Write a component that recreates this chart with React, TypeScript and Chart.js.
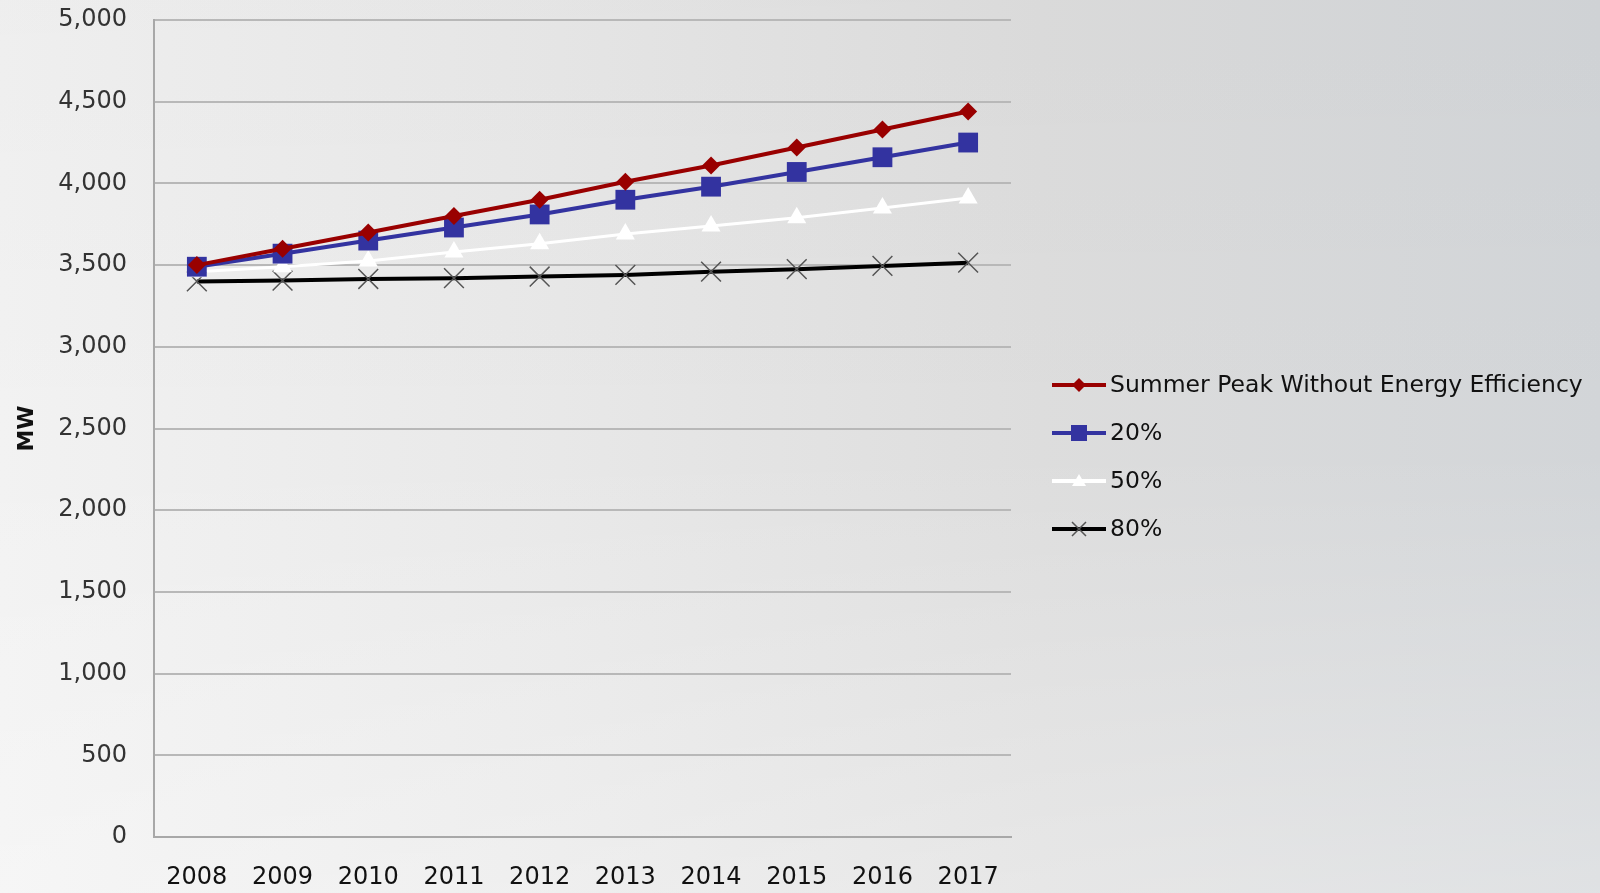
import React, { useEffect, useRef } from "react";
import { Chart, registerables } from "chart.js";

Chart.register(...registerables);

const years = ["2008", "2009", "2010", "2011", "2012", "2013", "2014", "2015", "2016", "2017"];
const summerPeak = [3500, 3600, 3700, 3800, 3900, 4010, 4110, 4220, 4330, 4440];
const eff20 = [3490, 3570, 3650, 3730, 3810, 3900, 3980, 4070, 4160, 4250];
const eff50 = [3460, 3490, 3525, 3580, 3630, 3690, 3740, 3790, 3850, 3910];
const eff80 = [3400, 3405, 3415, 3420, 3430, 3440, 3460, 3475, 3495, 3515];
const seriesNames = ["Summer Peak Without Energy Efficiency", "20%", "50%", "80%"];

const FONT = "'DejaVu Sans', Verdana, sans-serif";

function drawMarker(ctx: CanvasRenderingContext2D, style: string, x: number, y: number, r: number, color: string) {
  ctx.fillStyle = color;
  ctx.strokeStyle = color;
  ctx.beginPath();
  if (style === "diamond") {
    ctx.moveTo(x, y - r); ctx.lineTo(x + r, y); ctx.lineTo(x, y + r); ctx.lineTo(x - r, y); ctx.closePath(); ctx.fill();
  } else if (style === "square") {
    ctx.rect(x - r, y - r, 2 * r, 2 * r); ctx.fill();
  } else if (style === "triangle") {
    ctx.moveTo(x, y - r); ctx.lineTo(x + r, y + r * 0.7); ctx.lineTo(x - r, y + r * 0.7); ctx.closePath(); ctx.fill();
  } else {
    ctx.lineWidth = 1.5;
    ctx.moveTo(x - r, y - r); ctx.lineTo(x + r, y + r);
    ctx.moveTo(x + r, y - r); ctx.lineTo(x - r, y + r); ctx.stroke();
  }
}

const legendMarkers = [
  { style: "diamond", r: 7, line: "#990000", marker: "#990000" },
  { style: "square", r: 8, line: "#3333a0", marker: "#3333a0" },
  { style: "triangle", r: 7, line: "#ffffff", marker: "#ffffff" },
  { style: "cross", r: 7, line: "#000000", marker: "#555555" },
];

const sideLegend = {
  id: "sideLegend",
  afterDraw(chart: any) {
    const ctx: CanvasRenderingContext2D = chart.ctx;
    const area = chart.chartArea;
    const x0 = area.right + 41;
    const step = 48;
    const yStart = 385;
    ctx.save();
    chart.data.datasets.forEach((ds: any, i: number) => {
      const m = legendMarkers[i];
      const y = yStart + i * step;
      ctx.strokeStyle = m.line;
      ctx.lineWidth = 4;
      ctx.beginPath();
      ctx.moveTo(x0, y);
      ctx.lineTo(x0 + 54, y);
      ctx.stroke();
      drawMarker(ctx, m.style, x0 + 27, y, m.r, m.marker);
      ctx.font = `23.5px ${FONT}`;
      ctx.textBaseline = "middle";
      ctx.textAlign = "left";
      ctx.fillStyle = "#111111";
      ctx.fillText(ds.label, x0 + 58, y + 1);
    });
    ctx.restore();
  },
};

export default function App() {
  const ref = useRef<HTMLCanvasElement | null>(null);

  useEffect(() => {
    document.body.style.margin = "0";
    const chart = new Chart(ref.current!, {
      type: "line",
      data: {
        labels: years,
        datasets: [
          {
            label: seriesNames[0], data: summerPeak, borderColor: "#990000", backgroundColor: "#990000",
            borderWidth: 4, pointStyle: "rectRot", pointRadius: 9, pointBorderWidth: 0,
          },
          {
            label: seriesNames[1], data: eff20, borderColor: "#3333a0", backgroundColor: "#3333a0",
            borderWidth: 4, pointStyle: "rect", pointRadius: 14, pointBorderWidth: 0,
          },
          {
            label: seriesNames[2], data: eff50, borderColor: "#ffffff", backgroundColor: "#ffffff",
            borderWidth: 3, pointStyle: "triangle", pointRadius: 11, pointBorderWidth: 0,
          },
          {
            label: seriesNames[3], data: eff80, borderColor: "#000000", backgroundColor: "#555555",
            borderWidth: 4, pointStyle: "crossRot", pointRadius: 14, pointBorderWidth: 1.5,
            pointBorderColor: "#555555",
          },
        ],
      },
      options: {
        animation: false,
        responsive: false,
        layout: { autoPadding: false, padding: { top: 20, right: 589, bottom: 0, left: 0 } },
        plugins: {
          tooltip: { enabled: false },
          legend: { display: false },
        },
        scales: {
          x: {
            offset: true,
            grid: { display: false, drawTicks: false },
            border: { display: true, color: "#a8a8a8", width: 2 },
            ticks: { color: "#111111", font: { family: FONT, size: 24 }, padding: 26, maxRotation: 0 },
            afterFit: (s: any) => {
              s.height = 56;
              s.paddingTop = 0;
              s.paddingBottom = 0;
              s.paddingLeft = 0;
              s.paddingRight = 0;
            },
          },
          y: {
            min: 0,
            max: 5000,
            grid: { color: "#b8b8b8", lineWidth: 2, drawTicks: false },
            border: { display: true, color: "#a8a8a8", width: 2 },
            ticks: {
              stepSize: 500,
              color: "#333333",
              padding: 27,
              font: { family: FONT, size: 24 },
              callback: (v: any) => Number(v).toLocaleString("en-US"),
            },
            title: {
              display: true,
              text: "MW",
              color: "#111111",
              font: { family: FONT, size: 22, weight: "bold" },
              padding: { top: 14, bottom: 0 },
            },
            afterFit: (s: any) => {
              s.width = 154;
              s.paddingTop = 0;
              s.paddingBottom = 0;
            },
          },
        },
      },
      plugins: [sideLegend],
    });
    return () => chart.destroy();
  }, []);

  return (
    <div
      style={{
        position: "fixed",
        left: 0,
        top: 0,
        width: 1600,
        height: 893,
        background:
          "linear-gradient(to bottom, rgba(0,0,0,0.015) 0%, rgba(255,255,255,0) 50%, rgba(255,255,255,0.3) 100%), linear-gradient(to right, #f2f2f2 0%, #e8e8e8 35%, #dddddd 65%, #d2d5d8 100%)",
      }}
    >
      <canvas ref={ref} width={1600} height={893} style={{ display: "block" }} />
    </div>
  );
}
